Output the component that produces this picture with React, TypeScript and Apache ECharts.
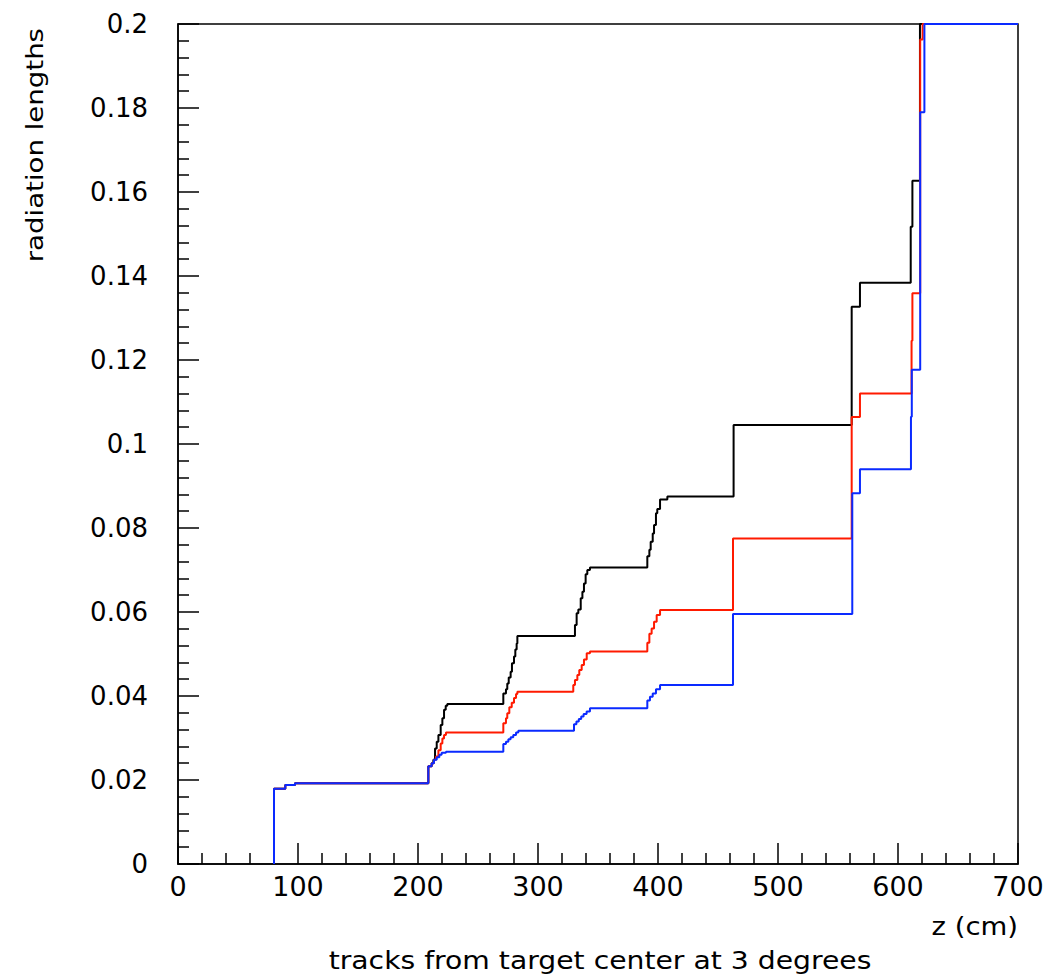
import React, { useEffect, useRef } from "react";
import * as echarts from "echarts";

// z positions (cm) where each cumulative value begins, and the value held from there
const blackZ = [80, 80, 89.4, 97.5, 208.6, 211.4, 212.8, 214.2, 215.6, 217, 218.9, 220.3, 221.7, 223.1, 224.4,
  271.1, 273.3, 274.4, 275.6, 277.2, 278.3, 280, 281.1, 282.2, 282.8,
  330.8, 332.2, 333.6, 335.6, 337, 338.3, 339.7, 341.1, 343.3,
  391.1, 392.8, 393.9, 395.6, 396.7, 398.3, 399.4, 401.7, 407.8,
  463, 561.4, 568.3, 610.6, 612, 618.3, 700];
const blackY = [0, 0.0179, 0.0188, 0.0192, 0.0233, 0.024, 0.0248, 0.0275, 0.0291, 0.0307, 0.0331, 0.0347, 0.0367, 0.0377, 0.0381,
  0.0406, 0.0416, 0.043, 0.0444, 0.0458, 0.0478, 0.0494, 0.0511, 0.0525, 0.0543,
  0.0569, 0.0597, 0.0606, 0.0633, 0.0648, 0.0668, 0.069, 0.07, 0.0706,
  0.0733, 0.0748, 0.0767, 0.0787, 0.0807, 0.0835, 0.0845, 0.0868, 0.0875,
  0.1045, 0.1327, 0.1384, 0.1517, 0.1627, 0.2, 0.2];

const redZ = [80, 80, 89.4, 97.5, 208.6, 211.4, 213.3, 215, 217, 218.9, 220.3, 221.7, 223.3,
  271.1, 273.3, 274.4, 276.1, 278.1, 280, 281.7, 282.8,
  329.4, 330.8, 332.8, 334.4, 336.4, 338.3, 340.6, 343.3,
  391.1, 392.8, 394.7, 396.7, 398.9, 401.7,
  462.5, 561.4, 568.3, 611.3, 612, 618.5, 620.5, 700];
const redY = [0, 0.0179, 0.0188, 0.0192, 0.0233, 0.024, 0.0248, 0.0256, 0.0271, 0.0287, 0.0299, 0.0307, 0.0313,
  0.0335, 0.0347, 0.0359, 0.0373, 0.0384, 0.0395, 0.0405, 0.041,
  0.0426, 0.0438, 0.045, 0.0462, 0.0474, 0.0487, 0.0502, 0.0506,
  0.0527, 0.0548, 0.0561, 0.0577, 0.0593, 0.0605,
  0.0775, 0.1064, 0.112, 0.1246, 0.1359, 0.1963, 0.2, 0.2];

const blueZ = [80, 80, 89.4, 97.5, 208.6, 211.4, 213.3, 215.6, 217.8, 219.7, 223.3,
  271.1, 273.3, 275.3, 277.2, 279.4, 281.7, 283.6,
  330, 332, 334, 336, 338, 340.5, 343.3,
  391.1, 393.3, 395.6, 398.3, 401.7,
  462.5, 561.9, 568.3, 610.8, 611.5, 618.5, 622, 700];
const blueY = [0, 0.0179, 0.0188, 0.0192, 0.0233, 0.024, 0.0248, 0.0254, 0.026, 0.0265, 0.0267,
  0.0286, 0.0291, 0.0297, 0.0302, 0.0307, 0.0313, 0.0317,
  0.0333, 0.0339, 0.0345, 0.0351, 0.0357, 0.0363, 0.0371,
  0.0389, 0.0398, 0.0406, 0.0416, 0.0426,
  0.0595, 0.0883, 0.094, 0.1065, 0.1177, 0.179, 0.2, 0.2];

const yTickLabels = ["0", "0.02", "0.04", "0.06", "0.08", "0.1", "0.12", "0.14", "0.16", "0.18", "0.2"];
const xTickLabels = ["0", "100", "200", "300", "400", "500", "600", "700"];

const xTitle = "tracks from target center at 3 degrees";
const xUnit = "z (cm)";
const yTitle = "radiation lengths";

const FONT = "'DejaVu Sans', sans-serif";

function pairs(z: number[], y: number[]) {
  return z.map((v, i) => [v, y[i]]);
}

export default function App() {
  const ref = useRef<HTMLDivElement>(null);
  useEffect(() => {
    if (!ref.current) return;
    const chart = echarts.init(ref.current, null, { renderer: "svg" });
    const mkLine = (name: string, color: string, data: number[][]) => ({
      name,
      type: "line",
      step: "end",
      data,
      symbol: "none",
      showSymbol: false,
      lineStyle: { color, width: 2 },
      itemStyle: { color },
    });
    chart.setOption({
      animation: false,
      backgroundColor: "#fff",
      grid: {
        left: 178,
        top: 24,
        right: 33,
        bottom: 114,
        show: true,
        borderColor: "#000",
        borderWidth: 1.5,
        backgroundColor: "transparent",
      },
      xAxis: {
        type: "value",
        min: 0,
        max: 700,
        interval: 100,
        axisLine: { show: true, lineStyle: { color: "#000", width: 1.5 } },
        axisTick: { show: true, inside: true, length: 21, lineStyle: { color: "#000", width: 1.5 } },
        minorTick: { show: true, splitNumber: 5, length: 11, lineStyle: { color: "#000", width: 1.5 } },
        splitLine: { show: false },
        axisLabel: {
          margin: 9,
          color: "#000",
          fontFamily: FONT,
          fontSize: 27,
          formatter: (v: number) => xTickLabels[Math.round(v / 100)] ?? String(v),
        },
      },
      yAxis: {
        type: "value",
        min: 0,
        max: 0.2,
        interval: 0.02,
        axisLine: { show: true, lineStyle: { color: "#000", width: 1.5 } },
        axisTick: { show: true, inside: true, length: 21, lineStyle: { color: "#000", width: 1.5 } },
        minorTick: { show: true, splitNumber: 5, length: 11, lineStyle: { color: "#000", width: 1.5 } },
        splitLine: { show: false },
        axisLabel: {
          margin: 30,
          color: "#000",
          fontFamily: FONT,
          fontSize: 26,
          formatter: (v: number) => yTickLabels[Math.round(v / 0.02)] ?? String(v),
        },
      },
      graphic: [
        {
          type: "text",
          x: 600,
          y: 960,
          scaleX: 1.13,
          style: {
            text: xTitle,
            fontFamily: FONT,
            fontSize: 25,
            fill: "#000",
            align: "center",
            verticalAlign: "middle",
          },
        },
        {
          type: "text",
          x: 1018,
          y: 926,
          scaleX: 1.1,
          style: {
            text: xUnit,
            fontFamily: FONT,
            fontSize: 25,
            fill: "#000",
            align: "right",
            verticalAlign: "middle",
          },
        },
        {
          type: "text",
          x: 35,
          y: 28,
          rotation: Math.PI / 2,
          scaleX: 1.2,
          style: {
            text: yTitle,
            fontFamily: FONT,
            fontSize: 23,
            fill: "#000",
            align: "right",
            verticalAlign: "middle",
          },
        },
      ],
      series: [
        mkLine("black", "#000000", pairs(blackZ, blackY)),
        mkLine("red", "#ff1a00", pairs(redZ, redY)),
        mkLine("blue", "#0a2aff", pairs(blueZ, blueY)),
      ],
    });
    return () => chart.dispose();
  }, []);
  return (
    <div
      ref={ref}
      style={{ position: "fixed", left: 0, top: 0, width: 1051, height: 978, background: "#fff" }}
    />
  );
}
